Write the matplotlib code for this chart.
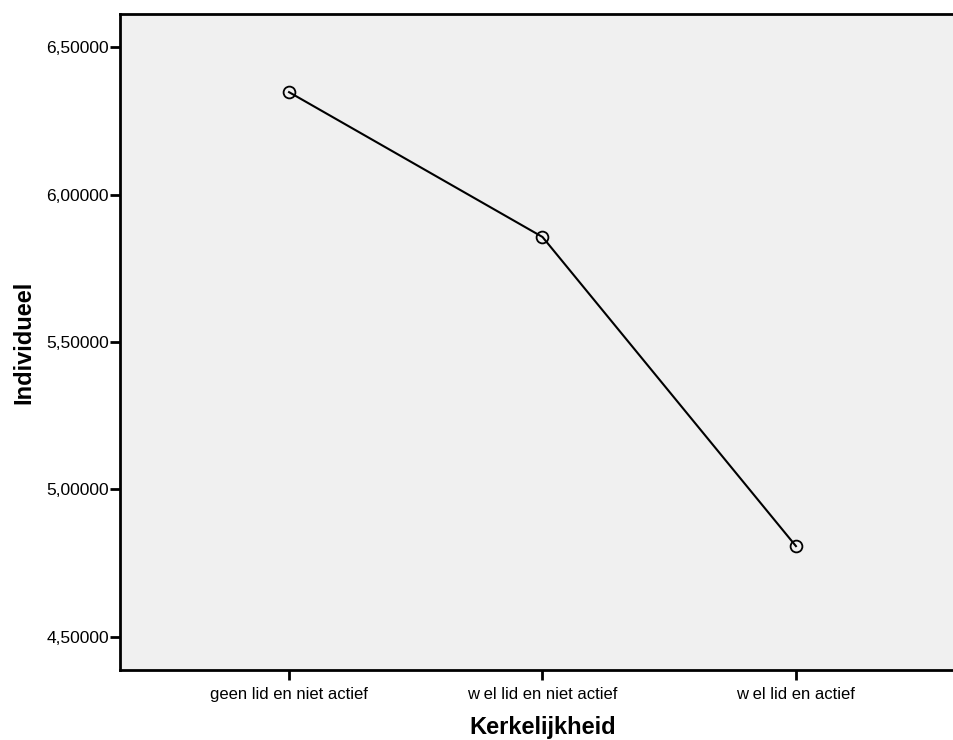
import matplotlib.pyplot as plt

plt.rcParams['font.family'] = ['Liberation Sans', 'DejaVu Sans']

categories = ['geen lid en niet actief', 'w el lid en niet actief', 'w el lid en actief']
means = [6.347, 5.856, 4.808]
yticks = [4.5, 5.0, 5.5, 6.0, 6.5]
ytickLabels = ['4,50000', '5,00000', '5,50000', '6,00000', '6,50000']

fig = plt.figure(figsize=(9.54, 7.40), dpi=100)
ax = fig.add_axes([0.1258, 0.0946, 0.8857, 0.8865])
ax.set_facecolor('#F0F0F0')

xs = list(range(len(categories)))
ax.plot(xs, means, color='black', linewidth=1.5, marker='o', markersize=8.5,
        markerfacecolor='none', markeredgecolor='black', markeredgewidth=1.3)

ax.set_xlim(-0.667, 2.667)
ax.set_ylim(4.388, 6.612)
ax.set_xticks(xs)
ax.set_xticklabels(categories, fontsize=12)
ax.set_yticks(yticks)
ax.set_yticklabels(ytickLabels, fontsize=12.5)
ax.tick_params(direction='out', length=7, width=2, color='black')
ax.tick_params(axis='y', pad=1)
ax.tick_params(axis='x', pad=5)

for side in ['left', 'bottom', 'top', 'right']:
    ax.spines[side].set_linewidth(2)

ax.set_xlabel('Kerkelijkheid', fontsize=17, fontweight='bold', labelpad=10)
ax.set_ylabel('Individueel', fontsize=17, fontweight='bold', labelpad=8)

plt.savefig('out.png', dpi=100)
